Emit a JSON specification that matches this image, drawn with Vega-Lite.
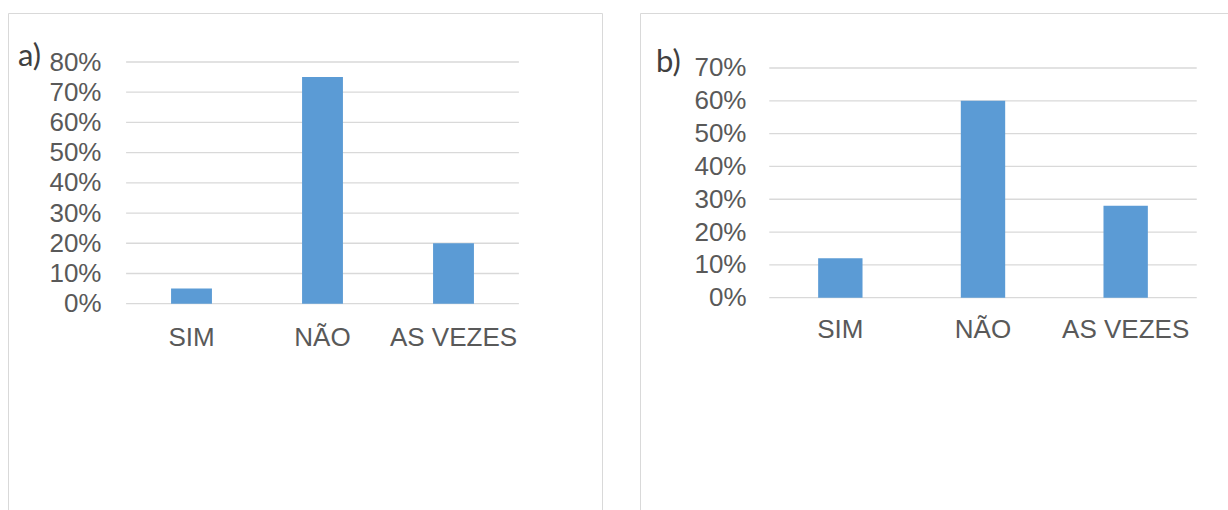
{
  "$schema": "https://vega.github.io/schema/vega-lite/v6.json",
  "padding": {"left": 7, "top": 12, "right": 0, "bottom": 0},
  "background": "white",
  "datasets": {
    "a": [
      {"cat": "SIM", "value": 0.05},
      {"cat": "NÃO", "value": 0.75},
      {"cat": "AS VEZES", "value": 0.20}
    ],
    "b": [
      {"cat": "SIM", "value": 0.12},
      {"cat": "NÃO", "value": 0.60},
      {"cat": "AS VEZES", "value": 0.28}
    ],
    "ticksA": [{"t": 0}, {"t": 0.1}, {"t": 0.2}, {"t": 0.3}, {"t": 0.4}, {"t": 0.5}, {"t": 0.6}, {"t": 0.7}, {"t": 0.8}],
    "ticksB": [{"t": 0}, {"t": 0.1}, {"t": 0.2}, {"t": 0.3}, {"t": 0.4}, {"t": 0.5}, {"t": 0.6}, {"t": 0.7}]
  },
  "spacing": 36,
  "hconcat": [
    {
      "width": 594,
      "height": 510,
      "title": {"text": "a)", "dx": 10, "dy": 64},
      "layer": [
        {
          "data": {"name": "ticksA"},
          "mark": {"type": "rule", "color": "#d9d9d9", "strokeWidth": 1.3},
          "encoding": {
            "y": {
              "field": "t", "type": "quantitative",
              "scale": {"domain": [-0.7259, 0.9622], "nice": false, "zero": false},
              "axis": {"orient": "left", "offset": -93, "values": [0, 0.1, 0.2, 0.3, 0.4, 0.5, 0.6, 0.7, 0.8], "format": ".0%", "title": null, "labelOverlap": false, "labelAlign": "right", "labelBaseline": "middle"}
            },
            "x": {
              "datum": "SIM", "type": "nominal", "bandPosition": -1.1,
              "scale": {"type": "band", "domain": ["SIM", "NÃO", "AS VEZES"], "range": [118, 511], "paddingInner": 0.688, "paddingOuter": 0.344},
              "axis": {"orient": "bottom", "offset": -199, "labelAngle": 0, "title": null, "labelOverlap": false}
            },
            "x2": {"datum": "AS VEZES", "bandPosition": 2.1}
          }
        },
        {
          "data": {"name": "a"},
          "mark": {"type": "bar", "color": "#5b9bd5"},
          "encoding": {
            "x": {"field": "cat", "type": "nominal", "title": null},
            "y": {"field": "value", "type": "quantitative", "title": null},
            "y2": {"datum": 0}
          }
        }
      ]
    },
    {
      "width": 600,
      "height": 510,
      "title": {"text": "b)", "dx": 16, "dy": 70},
      "layer": [
        {
          "data": {"name": "ticksB"},
          "mark": {"type": "rule", "color": "#d9d9d9", "strokeWidth": 1.3},
          "encoding": {
            "y": {
              "field": "t", "type": "quantitative",
              "scale": {"domain": [-0.6867, 0.8676], "nice": false, "zero": false},
              "axis": {"orient": "left", "offset": -106, "values": [0, 0.1, 0.2, 0.3, 0.4, 0.5, 0.6, 0.7], "format": ".0%", "title": null, "labelOverlap": false, "labelAlign": "right", "labelBaseline": "middle"}
            },
            "x": {
              "datum": "SIM", "type": "nominal", "bandPosition": -1.102,
              "scale": {"type": "band", "domain": ["SIM", "NÃO", "AS VEZES"], "range": [129, 557], "paddingInner": 0.689, "paddingOuter": 0.3445},
              "axis": {"orient": "bottom", "offset": -207, "labelAngle": 0, "title": null, "labelOverlap": false}
            },
            "x2": {"datum": "AS VEZES", "bandPosition": 2.102}
          }
        },
        {
          "data": {"name": "b"},
          "mark": {"type": "bar", "color": "#5b9bd5"},
          "encoding": {
            "x": {"field": "cat", "type": "nominal", "title": null},
            "y": {"field": "value", "type": "quantitative", "title": null},
            "y2": {"datum": 0}
          }
        }
      ]
    }
  ],
  "config": {
    "view": {"stroke": "#d9d9d9", "strokeWidth": 1},
    "axis": {
      "labelFont": "Liberation Sans",
      "labelFontSize": 26,
      "labelColor": "#595959",
      "domain": false,
      "ticks": false,
      "tickSize": 0,
      "grid": false,
      "labelPadding": 0
    },
    "title": {
      "font": "Lato",
      "fontSize": 31,
      "fontWeight": "normal",
      "color": "#404040",
      "anchor": "start",
      "frame": "group",
      "offset": 0,
      "baseline": "alphabetic"
    }
  }
}
